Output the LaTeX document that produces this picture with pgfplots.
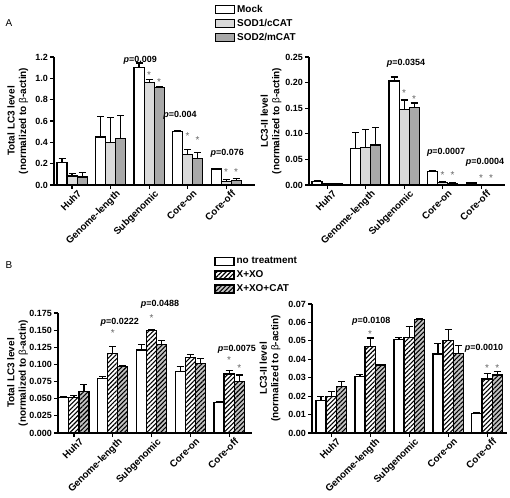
\documentclass[border=0pt]{standalone}
\usepackage{fontspec}
\setmainfont{Liberation Sans}
\usepackage{pgfplots}
\pgfplotsset{compat=1.18}
\usepackage{pgfplotstable}
\usetikzlibrary{patterns.meta}

\definecolor{lg}{HTML}{DADADA}
\definecolor{dg}{HTML}{A8A8A8}
\definecolor{hg}{HTML}{C4C4C4}

% Panel A, total LC3: mean and upward SEM for Mock, SOD1/cCAT, SOD2/mCAT
\pgfplotstableread{
x a ae b be c ce
0 0.21 0.035 0.085 0.025 0.075 0.040
1 0.45 0.19 0.40 0.23 0.435 0.215
2 1.098 0.045 0.958 0.032 0.912 0.006
3 0.50 0.012 0.285 0.05 0.247 0.056
4 0.15 0.008 0.035 0.02 0.04 0.02
}\tAL
% Panel A, LC3-II
\pgfplotstableread{
x a ae b be c ce
0 0.0065 0.0025 0.002 0.001 0.002 0.001
1 0.072 0.031 0.074 0.034 0.078 0.035
2 0.203 0.008 0.147 0.019 0.151 0.009
3 0.026 0.002 0.005 0.002 0.003 0.002
4 0.004 0.001 0.001 0.0005 0.001 0.0005
}\tAR
% Panel B, total LC3: no treatment, X+XO, X+XO+CAT
\pgfplotstableread{
x a ae b be c ce
0 0.0523 0.0015 0.0513 0.0037 0.061 0.010
1 0.0797 0.0023 0.1163 0.0097 0.0968 0.0009
2 0.121 0.0075 0.1496 0.0019 0.1285 0.0065
3 0.0894 0.0074 0.110 0.004 0.1017 0.0073
4 0.045 0.0014 0.086 0.005 0.0748 0.0097
}\tBL
% Panel B, LC3-II
\pgfplotstableread{
x a ae b be c ce
0 0.0178 0.0022 0.0196 0.0028 0.0251 0.0027
1 0.0305 0.0013 0.0469 0.0046 0.0369 0.0004
2 0.0509 0.0011 0.052 0.0058 0.0618 0.0002
3 0.0429 0.0058 0.050 0.006 0.0433 0.004
4 0.0105 0.0004 0.0293 0.0031 0.0315 0.0018
}\tBR

\pgfplotsset{
  panel/.style={
    scale only axis, clip=false,
    axis lines=left, axis line style={-, line width=1.2bp},
    tick style={line width=1.2bp, black},
    major tick length=4bp, tick align=outside,
    xtick={0,1,2,3,4},
    xticklabels={Huh7,Genome-length,Subgenomic,Core-on,Core-off},
    x tick label style={rotate=45, anchor=north east, font=\bfseries\fontsize{9.8}{11}\selectfont, inner sep=0.5bp, xshift=4bp, yshift=-3bp},
    y tick label style={font=\bfseries\fontsize{9}{10}\selectfont, inner sep=2bp},
    /pgf/number format/assume math mode=true,
    scaled y ticks=false,
    ymin=0,
    ybar=0pt, bar width=0.26,
    ylabel style={align=center, font=\bfseries\fontsize{10}{11.5}\selectfont},
    every axis plot/.append style={draw=black, line width=1.2bp,
      error bars/y dir=plus, error bars/y explicit,
      error bars/error bar style={line width=1.2bp, black},
      error bars/error mark options={line width=1.2bp, black, mark size=3.5bp, rotate=90}},
    legend image code/.code={\draw[#1,line width=1.2bp] (0bp,-4bp) rectangle (19bp,4bp);},
    legend style={draw=none, fill=none, font=\bfseries\fontsize{10}{12}\selectfont,
      row sep=1.6bp, anchor=north west, legend cell align=left,
      /tikz/every even column/.append style={column sep=2bp}},
  },
  prec/.style={yticklabel style={/pgf/number format/fixed, /pgf/number format/fixed zerofill, /pgf/number format/precision=#1}},
  mock/.style={fill=white, bar shift=-0.26},
  sodA/.style={fill=lg, bar shift=0},
  sodB/.style={fill=dg, bar shift=0.26},
  hw/.style={fill=white, bar shift=0, postaction={pattern={Lines[angle=45,distance=3.2bp,line width=1.1bp]}}},
  hgr/.style={fill=hg, bar shift=0.26, postaction={pattern={Lines[angle=45,distance=3.2bp,line width=1.1bp]}}},
}
\tikzset{
  pv/.style={font=\bfseries\fontsize{9}{10}\selectfont, inner sep=0pt},
  ast/.style={font=\fontsize{10}{11}\selectfont, text=black!60, inner sep=0pt, yshift=-2bp},
}

\begin{document}
\begin{tikzpicture}
\useasboundingbox (0,0) rectangle (510bp,498bp);
\node[anchor=center, font=\fontsize{10}{12}\selectfont] at (9bp,475bp) {A};
\node[anchor=center, font=\fontsize{10}{12}\selectfont] at (9bp,233bp) {B};

% ---- A left
\begin{axis}[panel, prec=1, at={(54bp,313bp)}, anchor=south west,
  width=201bp, height=128bp, xmin=-0.47, xmax=4.75,
  ymax=1.2, ytick={0,0.2,0.4,0.6,0.8,1.0,1.2},
  ylabel={Total LC3 level\\(normalized to {\mdseries β}-actin)},
  every axis y label/.append style={at={(axis description cs:-0.18,0.5)}, anchor=center},
  legend style={at={(0.785,1.44)}},
]
\addplot[mock] table[x=x,y=a,y error=ae]{\tAL};
\addplot[sodA] table[x=x,y=b,y error=be]{\tAL};
\addplot[sodB] table[x=x,y=c,y error=ce]{\tAL};
\legend{Mock,SOD1/cCAT,SOD2/mCAT}
\node[pv] at (axis cs:1.77,1.166) {\textit{p}=0.009};
\node[pv] at (axis cs:2.8,0.65) {\textit{p}=0.004};
\node[pv] at (axis cs:4.03,0.294) {\textit{p}=0.076};
\node[ast] at (axis cs:2,1.05) {*};
\node[ast] at (axis cs:2.26,0.98) {*};
\node[ast] at (axis cs:3,0.48) {*};
\node[ast] at (axis cs:3.26,0.44) {*};
\node[ast] at (axis cs:4,0.139) {*};
\node[ast] at (axis cs:4.26,0.139) {*};
\end{axis}

% ---- A right
\begin{axis}[panel, prec=2, at={(309bp,313bp)}, anchor=south west,
  width=196bp, height=128bp, xmin=-0.47, xmax=4.62,
  ymax=0.25, ytick={0,0.05,0.10,0.15,0.20,0.25},
  ylabel={LC3-II level\\(normalized to {\mdseries β}-actin)},
  every axis y label/.append style={at={(axis description cs:-0.194,0.5)}, anchor=center},
]
\addplot[mock] table[x=x,y=a,y error=ae]{\tAR};
\addplot[sodA] table[x=x,y=b,y error=be]{\tAR};
\addplot[sodB] table[x=x,y=c,y error=ce]{\tAR};
\node[pv] at (axis cs:2.05,0.237) {\textit{p}=0.0354};
\node[pv] at (axis cs:3.09,0.063) {\textit{p}=0.0007};
\node[pv] at (axis cs:4.1,0.0435) {\textit{p}=0.0004};
\node[ast] at (axis cs:2,0.183) {*};
\node[ast] at (axis cs:2.26,0.172) {*};
\node[ast] at (axis cs:3,0.0227) {*};
\node[ast] at (axis cs:3.26,0.0227) {*};
\node[ast] at (axis cs:4,0.0175) {*};
\node[ast] at (axis cs:4.26,0.0175) {*};
\end{axis}

% ---- B left
\begin{axis}[panel, prec=3, at={(58bp,65bp)}, anchor=south west,
  width=194bp, height=120bp, xmin=-0.41, xmax=4.59,
  ymax=0.175, ytick={0,0.025,0.05,0.075,0.1,0.125,0.15,0.175},
  ylabel={Total LC3 level\\(normalized to {\mdseries β}-actin)},
  every axis y label/.append style={at={(axis description cs:-0.209,0.5)}, anchor=center},
  legend style={at={(0.79,1.5)}},
]
\addplot[fill=white, bar shift=-0.26] table[x=x,y=a,y error=ae]{\tBL};
\addplot[hw] table[x=x,y=b,y error=be]{\tBL};
\addplot[hgr] table[x=x,y=c,y error=ce]{\tBL};
\legend{no treatment,X+XO,X+XO+CAT}
\node[pv] at (axis cs:1.18,0.162) {\textit{p}=0.0222};
\node[pv] at (axis cs:2.22,0.188) {\textit{p}=0.0488};
\node[pv] at (axis cs:4.2,0.1227) {\textit{p}=0.0075};
\node[ast] at (axis cs:1,0.148) {*};
\node[ast] at (axis cs:2,0.171) {*};
\node[ast] at (axis cs:4,0.109) {*};
\node[ast] at (axis cs:4.26,0.098) {*};
\end{axis}

% ---- B right
\begin{axis}[panel, prec=2, at={(312bp,65bp)}, anchor=south west,
  width=195bp, height=129bp, xmin=-0.49, xmax=4.51,
  ymax=0.07, ytick={0,0.01,0.02,0.03,0.04,0.05,0.06,0.07},
  ylabel={LC3-II level\\(normalized to {\mdseries β}-actin)},
  every axis y label/.append style={at={(axis description cs:-0.215,0.5)}, anchor=center},
]
\addplot[fill=white, bar shift=-0.26] table[x=x,y=a,y error=ae]{\tBR};
\addplot[hw] table[x=x,y=b,y error=be]{\tBR};
\addplot[hgr] table[x=x,y=c,y error=ce]{\tBR};
\node[pv] at (axis cs:1.03,0.0605) {\textit{p}=0.0108};
\node[pv] at (axis cs:3.92,0.046) {\textit{p}=0.0010};
\node[ast] at (axis cs:1,0.0545) {*};
\node[ast] at (axis cs:4,0.0364) {*};
\node[ast] at (axis cs:4.26,0.0364) {*};
\end{axis}
\end{tikzpicture}
\end{document}
